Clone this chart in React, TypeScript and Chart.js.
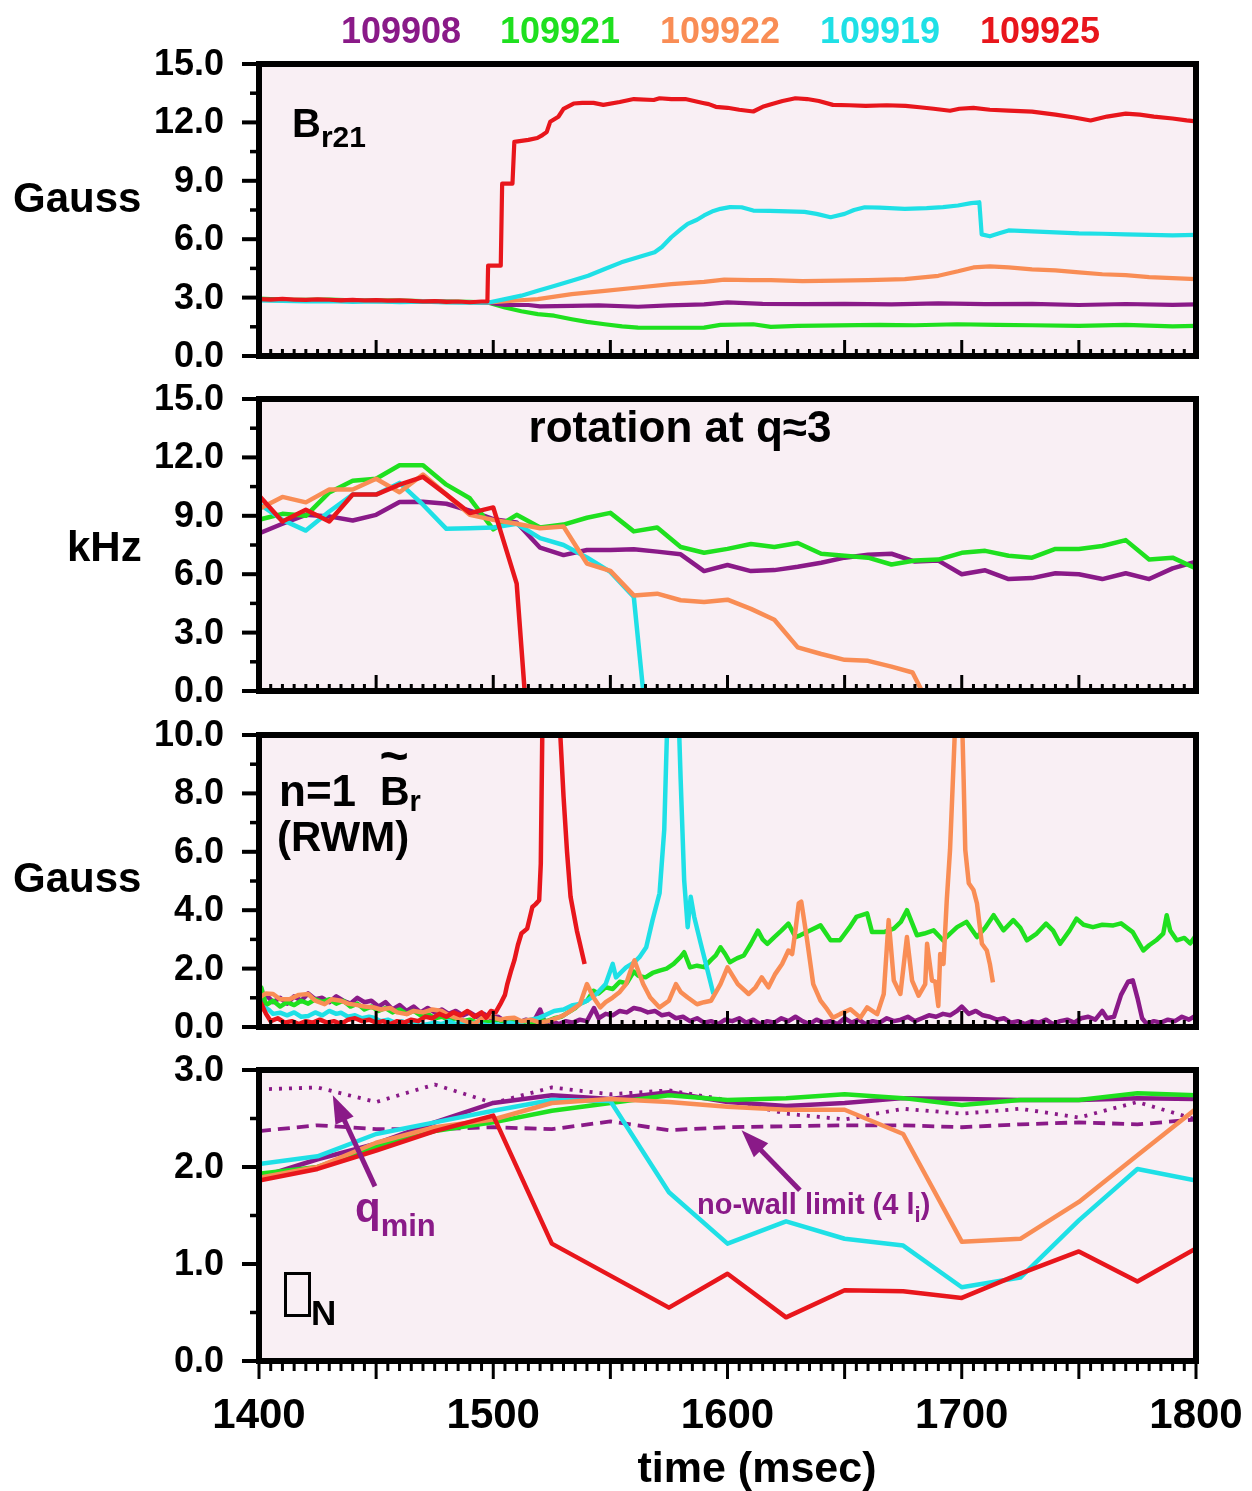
import React, { useEffect, useRef } from 'react';
import { Chart, registerables } from 'chart.js';
Chart.register(...registerables);

const W = 1252;
const FONT = '"Liberation Sans", Arial, Helvetica, sans-serif';
const PURPLE = '#8a1a88';
const GREEN = '#1fe01f';
const ORANGE = '#f98d55';
const CYAN = '#1fe0e6';
const RED = '#e8161c';
const BG = '#f9eff4';

type P = [number, number];

// ---------- shot labels ----------
const shotNames = ['109908', '109921', '109922', '109919', '109925'];
const shotColors = [PURPLE, GREEN, ORANGE, CYAN, RED];

// ---------- axis ticks ----------
const timeTicks = [1400, 1500, 1600, 1700, 1800];
const br21Ticks = [0, 3, 6, 9, 12, 15];
const rotTicks = [0, 3, 6, 9, 12, 15];
const rwmTicks = [0, 2, 4, 6, 8, 10];
const betaTicks = [0, 1, 2, 3];

// ---------- panel 1: B_r21 (Gauss) ----------
const br21Red: P[] = [[1400,2.92],[1405,2.9],[1410,2.93],[1415,2.9],[1420,2.88],[1425,2.91],[1430,2.89],[1435,2.86],[1440,2.88],[1445,2.85],[1450,2.87],[1455,2.84],[1460,2.86],[1465,2.83],[1470,2.8],[1475,2.82],[1480,2.78],[1485,2.8],[1490,2.76],[1495,2.8],[1497.5,2.8],[1497.8,4.64],[1503.2,4.64],[1503.8,8.85],[1508.2,8.85],[1509,11.0],[1512,11.05],[1515,11.1],[1518.8,11.2],[1521,11.35],[1522.8,11.5],[1524.3,12.03],[1527.8,12.29],[1530,12.7],[1534.3,12.97],[1538,13.0],[1542.8,13.0],[1547,12.9],[1554,13.05],[1560,13.2],[1568.5,13.15],[1571,13.24],[1576,13.2],[1582,13.2],[1589.5,13.0],[1592,12.94],[1595,12.8],[1600,12.75],[1605,12.65],[1611,12.56],[1615,12.8],[1619,12.95],[1623.5,13.1],[1629,13.24],[1634,13.2],[1639,13.1],[1645,12.9],[1652,12.88],[1659,12.85],[1668,12.88],[1676,12.85],[1682,12.78],[1688,12.7],[1695,12.6],[1699,12.7],[1705,12.75],[1712,12.65],[1720,12.6],[1730,12.55],[1740,12.4],[1748,12.25],[1755,12.1],[1762,12.3],[1770,12.45],[1776,12.4],[1782,12.3],[1790,12.2],[1796,12.1],[1800,12.05]];
const br21Cyan: P[] = [[1400,2.85],[1410,2.83],[1420,2.8],[1430,2.82],[1440,2.78],[1450,2.8],[1460,2.77],[1470,2.79],[1480,2.75],[1490,2.74],[1498,2.75],[1505,2.92],[1512,3.1],[1519,3.35],[1526,3.6],[1533.5,3.87],[1540.5,4.12],[1547.6,4.47],[1554.7,4.81],[1561.8,5.07],[1568.9,5.33],[1572,5.6],[1576,6.1],[1580,6.5],[1583,6.79],[1587,7.0],[1590,7.22],[1594,7.45],[1597,7.56],[1601,7.65],[1606,7.64],[1611,7.47],[1618,7.45],[1625.8,7.43],[1632.9,7.4],[1638,7.3],[1644,7.13],[1650,7.3],[1654,7.5],[1658.6,7.64],[1665,7.62],[1675.7,7.56],[1685,7.6],[1692,7.65],[1698.4,7.73],[1704,7.85],[1707.5,7.9],[1708.5,6.25],[1712,6.15],[1716,6.3],[1720,6.45],[1730,6.4],[1740,6.35],[1750,6.3],[1760,6.28],[1770,6.25],[1780,6.22],[1790,6.2],[1800,6.22]];
const br21Orange: P[] = [[1400,2.88],[1410,2.86],[1420,2.87],[1430,2.84],[1440,2.85],[1450,2.82],[1460,2.8],[1470,2.81],[1480,2.77],[1490,2.76],[1498,2.75],[1510,2.85],[1519,2.92],[1533.5,3.18],[1547.6,3.35],[1561.8,3.52],[1576,3.69],[1590,3.81],[1598.6,3.92],[1610,3.9],[1618.5,3.9],[1632,3.85],[1647,3.87],[1660,3.9],[1675.7,3.95],[1690,4.12],[1698.4,4.35],[1705,4.55],[1712,4.6],[1720,4.55],[1730,4.45],[1740,4.4],[1750,4.3],[1760,4.2],[1770,4.15],[1780,4.05],[1790,4.0],[1800,3.95]];
const br21Purple: P[] = [[1400,2.9],[1410,2.88],[1420,2.86],[1430,2.87],[1440,2.84],[1450,2.83],[1460,2.8],[1470,2.81],[1480,2.78],[1490,2.76],[1498,2.74],[1505,2.63],[1515,2.62],[1520,2.55],[1533.5,2.58],[1545,2.6],[1561.8,2.53],[1575,2.6],[1590,2.65],[1600,2.75],[1615,2.68],[1633,2.66],[1650,2.68],[1670,2.65],[1690,2.7],[1710,2.66],[1730,2.68],[1750,2.62],[1770,2.67],[1790,2.63],[1800,2.65]];
const br21Green: P[] = [[1400,2.95],[1410,2.9],[1420,2.88],[1430,2.9],[1440,2.86],[1450,2.84],[1460,2.85],[1470,2.82],[1480,2.8],[1490,2.78],[1498,2.74],[1505,2.49],[1512,2.3],[1519,2.15],[1526,2.07],[1533.5,1.89],[1540,1.75],[1547.6,1.63],[1555,1.52],[1561.8,1.46],[1575,1.45],[1590,1.46],[1597,1.6],[1611,1.63],[1618.5,1.5],[1630,1.55],[1647,1.57],[1665,1.6],[1680,1.58],[1698,1.63],[1715,1.6],[1730,1.58],[1750,1.55],[1770,1.6],[1790,1.52],[1800,1.55]];

// ---------- panel 2: rotation at q~3 (kHz) ----------
const rotRed: P[] = [[1400,10.04],[1410,8.71],[1420,9.31],[1430,8.71],[1440,10.09],[1450,10.09],[1460,10.6],[1470,11.0],[1480,10.09],[1490,9.14],[1500,9.43],[1510,5.52],[1513.4,0]];
const rotOrange: P[] = [[1400,9.35],[1410,9.97],[1420,9.69],[1430,10.35],[1440,10.35],[1450,10.9],[1460,10.21],[1470,11.12],[1480,10.09],[1490,9.05],[1500,8.79],[1510,8.59],[1520,8.36],[1530,8.45],[1540,6.55],[1550,6.17],[1560,4.91],[1570,5.0],[1580,4.66],[1590,4.57],[1600,4.69],[1610,4.22],[1620,3.66],[1630,2.24],[1640,1.9],[1650,1.6],[1660,1.55],[1670,1.25],[1679,0.95],[1683,0]];
const rotCyan: P[] = [[1400,9.62],[1410,8.79],[1420,8.24],[1430,9.22],[1440,10.09],[1450,10.09],[1460,10.69],[1470,9.57],[1480,8.33],[1490,8.36],[1500,8.4],[1510,8.59],[1520,7.85],[1530,7.5],[1540,6.86],[1550,6.12],[1560,4.83],[1564,0]];
const rotGreen: P[] = [[1400,8.8],[1410,9.1],[1420,9.0],[1430,10.2],[1440,10.8],[1450,10.9],[1460,11.6],[1470,11.6],[1480,10.6],[1490,9.9],[1500,8.3],[1510,9.05],[1520,8.4],[1530,8.55],[1540,8.9],[1550,9.15],[1560,8.2],[1570,8.4],[1580,7.4],[1590,7.1],[1600,7.3],[1610,7.55],[1620,7.4],[1630,7.6],[1640,7.05],[1650,6.95],[1660,6.85],[1670,6.5],[1680,6.7],[1690,6.75],[1700,7.1],[1710,7.2],[1720,6.95],[1730,6.85],[1740,7.3],[1750,7.3],[1760,7.45],[1770,7.75],[1780,6.75],[1790,6.85],[1800,6.3]];
const rotPurple: P[] = [[1400,8.1],[1410,8.59],[1420,9.05],[1430,8.97],[1440,8.76],[1450,9.05],[1460,9.71],[1470,9.72],[1480,9.62],[1490,9.26],[1500,8.83],[1510,8.66],[1520,7.36],[1530,6.98],[1540,7.24],[1550,7.24],[1560,7.28],[1570,7.16],[1580,7.02],[1590,6.16],[1600,6.47],[1610,6.16],[1620,6.21],[1630,6.38],[1640,6.59],[1650,6.85],[1660,7.0],[1670,7.05],[1680,6.65],[1690,6.7],[1700,6.0],[1710,6.2],[1720,5.75],[1730,5.8],[1740,6.05],[1750,6.0],[1760,5.75],[1770,6.05],[1780,5.75],[1790,6.3],[1800,6.65]];

// ---------- panel 3: n=1 RWM (Gauss) ----------
const rwmRed: P[] = [[1400,0.35],[1401,0.8],[1403,0.45],[1405,0.2],[1408,0.3],[1411,0.15],[1414,0.2],[1417,0.1],[1420,0.2],[1423,0.15],[1426,0.25],[1429,0.15],[1432,0.2],[1435,0.1],[1438,0.25],[1441,0.3],[1444,0.2],[1447,0.25],[1450,0.15],[1453,0.2],[1456,0.1],[1459,0.2],[1462,0.15],[1465,0.25],[1468,0.2],[1471,0.35],[1474,0.3],[1477,0.45],[1480,0.35],[1483,0.5],[1486,0.4],[1489,0.55],[1492,0.35],[1495,0.5],[1497,0.32],[1499,0.55],[1501,0.5],[1503,0.78],[1505,1.1],[1506,1.47],[1507.5,1.9],[1509,2.28],[1510.5,2.8],[1512,3.2],[1514.5,3.37],[1516.7,4.11],[1518,4.2],[1519.6,4.34],[1520.3,5.6],[1521,10.5],[1521.5,16],[1527.5,16],[1528.5,10.2],[1530,7.9],[1531.5,6.0],[1533,4.46],[1535.7,3.3],[1537,2.85],[1539,2.16]];
const rwmOrange: P[] = [[1400,1.0],[1403,1.15],[1406,1.13],[1409,0.95],[1413,0.95],[1417,1.1],[1421,1.13],[1424,0.9],[1428,0.78],[1431,0.95],[1435,0.9],[1438,0.8],[1442,0.75],[1445,0.7],[1449,0.67],[1452,0.6],[1456,0.65],[1459,0.5],[1463,0.44],[1466,0.55],[1470,0.5],[1474,0.6],[1478,0.55],[1481,0.4],[1485,0.3],[1488,0.2],[1492,0.1],[1495,0.3],[1499,0.35],[1503,0.25],[1506,0.3],[1509,0.32],[1512,0.2],[1516,0.25],[1520,0.15],[1523,0.2],[1527,0.3],[1530,0.4],[1533,0.55],[1537,0.78],[1540,1.47],[1542.8,1.01],[1545.7,0.67],[1548,0.85],[1551,1.01],[1554,1.2],[1556.7,1.47],[1558.5,1.9],[1560.3,2.28],[1562,1.9],[1564,1.47],[1567,1.01],[1571,0.67],[1575,0.9],[1578,1.47],[1580,1.2],[1583,1.01],[1587,0.78],[1590,0.85],[1593,0.9],[1597,1.47],[1600,2.04],[1604.4,1.47],[1609,1.13],[1612,1.36],[1614.6,1.7],[1617.5,1.36],[1620.4,1.82],[1623.3,2.16],[1626,2.62],[1627.6,2.5],[1629,3.3],[1630.4,4.23],[1631.5,4.29],[1633.8,3.08],[1636.6,1.47],[1639.7,0.9],[1642.5,0.61],[1645,0.32],[1648,0.44],[1652.5,0.61],[1656.7,0.32],[1659.6,0.67],[1663.9,0.44],[1666.7,1.13],[1668.8,3.66],[1671,1.59],[1673.8,1.13],[1676.6,3.08],[1678.8,1.59],[1681.6,1.07],[1684.4,1.47],[1685.2,2.85],[1687.3,1.59],[1688.7,1.55],[1690,0.72],[1690.8,2.5],[1692.2,2.16],[1693.6,4.34],[1695,6.07],[1696.5,9.0],[1697.5,11.0],[1700,11.0],[1700.8,8.5],[1701.5,6.07],[1703,4.92],[1705,4.69],[1706.5,4.23],[1708.6,2.85],[1710.7,2.62],[1712,2.16],[1713.3,1.53]];
const rwmCyan: P[] = [[1400,0.5],[1401,0.72],[1404,0.6],[1406,0.45],[1409,0.49],[1412,0.4],[1415,0.5],[1418,0.35],[1421,0.38],[1424,0.5],[1427,0.4],[1430,0.55],[1433,0.45],[1435,0.49],[1438,0.35],[1441,0.4],[1444,0.3],[1447,0.35],[1449,0.32],[1452,0.2],[1455,0.25],[1458,0.15],[1461,0.2],[1463,0.1],[1466,0.15],[1469,0.05],[1472,0.1],[1475,0.15],[1478,0.1],[1481,0.2],[1484,0.1],[1487,0.15],[1490,0.05],[1492,0.15],[1495,0.1],[1498,0.05],[1501,0.1],[1504,0.05],[1507,0.15],[1510,0.1],[1513,0.2],[1516,0.25],[1519,0.3],[1522,0.4],[1526,0.55],[1530,0.6],[1534,0.75],[1537,0.79],[1540,0.9],[1544,1.13],[1548,1.47],[1551,2.16],[1552.4,1.7],[1556.7,2.04],[1560,2.2],[1562.4,2.39],[1565.3,2.73],[1568,3.66],[1571,4.58],[1573,6.76],[1573.8,9.06],[1574.5,11],[1579,11],[1580,8.48],[1581.5,5.03],[1583,3.42],[1584.3,4.46],[1585.8,3.77],[1588.6,2.85],[1591.5,1.93],[1594,1.13]];
const rwmGreen: P[] = [[1400,0.8],[1401,1.35],[1403,0.75],[1406,0.9],[1409,0.7],[1412,0.85],[1415,0.75],[1418,0.9],[1421,0.8],[1424,0.95],[1427,0.85],[1430,0.95],[1433,0.8],[1436,0.9],[1439,0.7],[1442,0.8],[1445,0.6],[1448,0.7],[1451,0.55],[1454,0.65],[1457,0.5],[1460,0.6],[1463,0.45],[1466,0.55],[1469,0.4],[1472,0.45],[1475,0.3],[1478,0.35],[1481,0.25],[1484,0.3],[1487,0.2],[1490,0.25],[1493,0.15],[1496,0.2],[1499,0.15],[1502,0.25],[1505,0.15],[1508,0.2],[1511,0.1],[1514,0.2],[1517,0.15],[1520,0.25],[1523,0.2],[1526,0.3],[1529,0.35],[1532,0.5],[1535,0.65],[1537,0.8],[1540,0.9],[1542.8,1.24],[1545,1.15],[1548,1.36],[1551,1.3],[1554,1.55],[1557,1.5],[1560,1.9],[1562,1.75],[1565,1.7],[1568,1.85],[1571,1.93],[1574,2.0],[1577,2.16],[1580,2.4],[1581.5,2.56],[1584,2.04],[1587,2.1],[1590,2.05],[1593,2.3],[1595,2.45],[1597,2.73],[1599,2.5],[1601,2.22],[1604,2.35],[1607,2.45],[1610,2.85],[1613,3.3],[1615,3.0],[1617,2.85],[1620,3.08],[1623,3.3],[1626,3.54],[1629,3.08],[1631,3.14],[1635,3.3],[1639.7,3.48],[1644,2.97],[1648,2.97],[1652,3.4],[1655,3.77],[1659.6,3.89],[1661.7,3.25],[1666.7,3.25],[1671,3.37],[1674,3.6],[1676.6,4.0],[1680.9,3.14],[1684,3.2],[1688,3.31],[1692,2.97],[1695,3.2],[1698,3.42],[1702,3.6],[1706.5,3.08],[1710,3.4],[1713.6,3.83],[1717.8,3.31],[1722,3.66],[1725,3.4],[1727.8,2.97],[1732,3.2],[1736,3.54],[1739,3.3],[1742,2.85],[1746,3.3],[1749,3.71],[1752,3.5],[1756,3.42],[1760,3.5],[1764.7,3.48],[1768,3.55],[1773,3.25],[1777.5,2.62],[1780,2.8],[1783,2.97],[1786,3.2],[1787.5,3.83],[1789,3.3],[1791.8,2.97],[1795,3.05],[1797.5,2.86],[1800,3.14]];
const rwmPurple: P[] = [[1400,0.75],[1403,1.1],[1406,0.85],[1409,1.0],[1412,0.8],[1415,1.05],[1418,0.9],[1421,1.15],[1424,0.95],[1427,1.0],[1430,0.85],[1433,1.05],[1436,0.9],[1439,0.8],[1442,1.0],[1445,0.85],[1448,0.9],[1451,0.7],[1454,0.85],[1457,0.6],[1460,0.75],[1463,0.55],[1466,0.7],[1469,0.5],[1472,0.65],[1475,0.5],[1478,0.6],[1481,0.45],[1484,0.55],[1487,0.4],[1490,0.5],[1493,0.35],[1496,0.45],[1499,0.3],[1502,0.35],[1505,0.2],[1508,0.3],[1511,0.15],[1514,0.25],[1517,0.15],[1520,0.6],[1522,0.15],[1525,0.2],[1528,0.1],[1531,0.2],[1534,0.15],[1537,0.25],[1540,0.2],[1543,0.65],[1545,0.3],[1548,0.45],[1551,0.4],[1554,0.55],[1557,0.5],[1560,0.65],[1563,0.6],[1566,0.5],[1569,0.55],[1572,0.4],[1575,0.45],[1578,0.3],[1581,0.35],[1584,0.2],[1587,0.3],[1590,0.15],[1593,0.2],[1596,0.1],[1599,0.25],[1602,0.2],[1605,0.3],[1608,0.15],[1611,0.25],[1614,0.1],[1617,0.2],[1620,0.15],[1623,0.3],[1626,0.2],[1629,0.35],[1632,0.2],[1635,0.1],[1638,0.25],[1641,0.15],[1644,0.2],[1647,0.1],[1650,0.3],[1653,0.15],[1656,0.25],[1659,0.1],[1662,0.2],[1665,0.15],[1668,0.3],[1671,0.2],[1674,0.25],[1677,0.35],[1680,0.2],[1683,0.3],[1686,0.4],[1689,0.35],[1692,0.45],[1695,0.4],[1698,0.55],[1700,0.7],[1703,0.45],[1706,0.55],[1709,0.4],[1712,0.35],[1715,0.25],[1718,0.3],[1721,0.15],[1724,0.2],[1727,0.1],[1730,0.2],[1733,0.15],[1736,0.25],[1739,0.1],[1742,0.2],[1745,0.25],[1748,0.15],[1751,0.3],[1754,0.35],[1757,0.25],[1760,0.55],[1762,0.3],[1765,0.35],[1768,1.1],[1771,1.55],[1773,1.6],[1775,1.0],[1777,0.3],[1779,0.1],[1782,0.2],[1785,0.15],[1788,0.25],[1791,0.2],[1794,0.35],[1797,0.25],[1800,0.4]];

// ---------- panel 4: beta_N, q_min, no-wall limit ----------
const betaTimes = [1400, 1425, 1450, 1475, 1500, 1525, 1550, 1575, 1600, 1625, 1650, 1675, 1700, 1725, 1750, 1775, 1800];
const betaRed = [1.86, 1.98, 2.17, 2.37, 2.53, 1.21, 0.88, 0.55, 0.9, 0.45, 0.73, 0.72, 0.65, 0.9, 1.13, 0.82, 1.16];
const betaCyan = [2.03, 2.11, 2.34, 2.46, 2.58, 2.69, 2.68, 1.74, 1.21, 1.44, 1.26, 1.19, 0.76, 0.86, 1.45, 1.98, 1.86];
const betaOrange = [1.89, 2.0, 2.25, 2.41, 2.49, 2.66, 2.7, 2.67, 2.62, 2.59, 2.59, 2.34, 1.23, 1.26, 1.64, 2.12, 2.6];
const betaGreen = [1.93, 2.0, 2.21, 2.37, 2.46, 2.58, 2.66, 2.74, 2.69, 2.71, 2.75, 2.71, 2.64, 2.69, 2.69, 2.76, 2.74];
const betaPurple = [1.89, 2.08, 2.24, 2.46, 2.66, 2.74, 2.7, 2.77, 2.67, 2.63, 2.66, 2.71, 2.7, 2.69, 2.69, 2.71, 2.7];
const noWallLimit = [2.37, 2.43, 2.39, 2.39, 2.41, 2.39, 2.47, 2.38, 2.41, 2.42, 2.43, 2.43, 2.41, 2.44, 2.46, 2.44, 2.49];
const qminPurple = [2.8, 2.82, 2.67, 2.85, 2.66, 2.82, 2.75, 2.79, 2.69, 2.55, 2.49, 2.6, 2.55, 2.6, 2.51, 2.67, 2.49];

// annotation arrows (data coords: [time, value])
const qminArrow: P[] = [[1449.5, 1.8], [1431.5, 2.74]];
const noWallArrow: P[] = [[1630.9, 1.76], [1606.0, 2.38]];

const zipT = (vals: number[]): P[] => vals.map((v, i) => [betaTimes[i], v]);

interface Series { name: string; data: P[]; color: string; dash?: number[] }
interface PanelSpec {
  top: number;
  height: number;
  yTicks: number[];
  yMinor: number;
  lineWidth: number;
  series: Series[];
  bottom?: boolean;
  arrows?: P[][];
}

const PAD_T = 40;
const PAD_B = 40;
const PAD_B_LAST = 140;
const LEFT = 259;
const RIGHT = 1196;

const panels: PanelSpec[] = [
  {
    top: 64, height: 292, yTicks: br21Ticks, yMinor: 1.5, lineWidth: 4.2,
    series: [
      { name: '109925', data: br21Red, color: RED },
      { name: '109919', data: br21Cyan, color: CYAN },
      { name: '109922', data: br21Orange, color: ORANGE },
      { name: '109908', data: br21Purple, color: PURPLE },
      { name: '109921', data: br21Green, color: GREEN },
    ],
  },
  {
    top: 399, height: 292, yTicks: rotTicks, yMinor: 1.5, lineWidth: 4.5,
    series: [
      { name: '109925', data: rotRed, color: RED },
      { name: '109922', data: rotOrange, color: ORANGE },
      { name: '109919', data: rotCyan, color: CYAN },
      { name: '109921', data: rotGreen, color: GREEN },
      { name: '109908', data: rotPurple, color: PURPLE },
    ],
  },
  {
    top: 735, height: 292, yTicks: rwmTicks, yMinor: 1, lineWidth: 4.5,
    series: [
      { name: '109925', data: rwmRed, color: RED },
      { name: '109922', data: rwmOrange, color: ORANGE },
      { name: '109919', data: rwmCyan, color: CYAN },
      { name: '109921', data: rwmGreen, color: GREEN },
      { name: '109908', data: rwmPurple, color: PURPLE },
    ],
  },
  {
    top: 1070, height: 291, yTicks: betaTicks, yMinor: 0.5, lineWidth: 4.5, bottom: true,
    arrows: [qminArrow, noWallArrow],
    series: [
      { name: '109925', data: zipT(betaRed), color: RED },
      { name: '109922', data: zipT(betaOrange), color: ORANGE },
      { name: '109919', data: zipT(betaCyan), color: CYAN },
      { name: '109921', data: zipT(betaGreen), color: GREEN },
      { name: '109908', data: zipT(betaPurple), color: PURPLE },
      { name: 'no-wall limit', data: zipT(noWallLimit), color: PURPLE, dash: [12, 7] },
      { name: 'qmin', data: zipT(qminPurple), color: PURPLE, dash: [3, 7] },
    ],
  },
];

function makeFramePlugin(spec: PanelSpec) {
  return {
    id: 'frame',
    beforeDatasetsDraw(chart: any) {
      const { ctx, chartArea: a } = chart;
      ctx.save();
      ctx.fillStyle = BG;
      ctx.fillRect(a.left, a.top, a.right - a.left, a.bottom - a.top);
      ctx.restore();
    },
    afterDatasetsDraw(chart: any) {
      const { ctx, chartArea: a, scales } = chart;
      const xs = scales.x;
      const ys = scales.y;
      ctx.save();
      // arrows
      (spec.arrows || []).forEach((arr) => {
        const x0 = xs.getPixelForValue(arr[0][0]);
        const y0 = ys.getPixelForValue(arr[0][1]);
        const x1 = xs.getPixelForValue(arr[1][0]);
        const y1 = ys.getPixelForValue(arr[1][1]);
        const dx = x1 - x0, dy = y1 - y0;
        const len = Math.hypot(dx, dy);
        const ux = dx / len, uy = dy / len;
        const headL = 28, headW = 10;
        const bx = x1 - ux * headL, by = y1 - uy * headL;
        ctx.strokeStyle = PURPLE;
        ctx.fillStyle = PURPLE;
        ctx.lineWidth = 5;
        ctx.beginPath();
        ctx.moveTo(x0, y0);
        ctx.lineTo(bx + ux * 4, by + uy * 4);
        ctx.stroke();
        ctx.beginPath();
        ctx.moveTo(x1, y1);
        ctx.lineTo(bx - uy * headW, by + ux * headW);
        ctx.lineTo(bx + uy * headW, by - ux * headW);
        ctx.closePath();
        ctx.fill();
      });
      ctx.strokeStyle = '#000';
      ctx.fillStyle = '#000';
      // y ticks (outward, left)
      const yMax = spec.yTicks[spec.yTicks.length - 1];
      const nMinor = Math.round(yMax / spec.yMinor);
      for (let i = 0; i <= nMinor; i++) {
        const v = i * spec.yMinor;
        const py = ys.getPixelForValue(v);
        const major = spec.yTicks.some((t) => Math.abs(t - v) < 1e-6);
        ctx.lineWidth = major ? 4 : 3.5;
        ctx.beginPath();
        ctx.moveTo(a.left - (major ? 17 : 9), py);
        ctx.lineTo(a.left, py);
        ctx.stroke();
      }
      // x ticks
      for (let t = 1400; t <= 1800; t += 5) {
        const px = xs.getPixelForValue(t);
        const major = t % 50 === 0;
        ctx.lineWidth = 3;
        ctx.beginPath();
        if (spec.bottom) {
          ctx.moveTo(px, a.bottom);
          ctx.lineTo(px, a.bottom + (major ? 18 : 10));
        } else {
          ctx.moveTo(px, a.bottom);
          ctx.lineTo(px, a.bottom - (major ? 16 : 7));
        }
        ctx.stroke();
      }
      // frame
      ctx.lineWidth = 6;
      ctx.strokeRect(a.left, a.top, a.right - a.left, a.bottom - a.top);
      // y tick labels
      ctx.font = `bold 36px ${FONT}`;
      ctx.textAlign = 'right';
      ctx.textBaseline = 'middle';
      spec.yTicks.forEach((v) => {
        ctx.fillText(v.toFixed(1), 224, ys.getPixelForValue(v) + 1);
      });
      // x tick labels
      if (spec.bottom) {
        ctx.font = `bold 42px ${FONT}`;
        ctx.textAlign = 'center';
        ctx.textBaseline = 'alphabetic';
        timeTicks.forEach((t) => {
          ctx.fillText(String(t), xs.getPixelForValue(t), a.bottom + 67);
        });
      }
      ctx.restore();
    },
  };
}

function Panel({ spec }: { spec: PanelSpec }) {
  const ref = useRef<HTMLCanvasElement>(null);
  const padB = spec.bottom ? PAD_B_LAST : PAD_B;
  const h = spec.height + PAD_T + padB;
  useEffect(() => {
    const yMax = spec.yTicks[spec.yTicks.length - 1];
    const chart = new Chart(ref.current as HTMLCanvasElement, {
      type: 'line',
      data: {
        datasets: spec.series.map((s) => ({
          label: s.name,
          data: s.data.map(([x, y]) => ({ x, y })),
          borderColor: s.color,
          backgroundColor: s.color,
          borderWidth: s.dash ? 3.8 : spec.lineWidth,
          borderDash: s.dash || [],
          borderJoinStyle: 'round' as const,
          pointRadius: 0,
          tension: 0,
          fill: false,
        })),
      },
      options: {
        animation: false,
        responsive: false,
        maintainAspectRatio: false,
        events: [],
        layout: { padding: { left: LEFT, right: W - RIGHT, top: PAD_T, bottom: padB } },
        scales: {
          x: { type: 'linear', min: 1400, max: 1800, display: false },
          y: { type: 'linear', min: 0, max: yMax, display: false },
        },
        plugins: { legend: { display: false }, tooltip: { enabled: false } },
      },
      plugins: [makeFramePlugin(spec)],
    } as any);
    return () => chart.destroy();
  }, []);
  return (
    <canvas
      ref={ref}
      width={W}
      height={h}
      style={{ position: 'absolute', left: 0, top: spec.top - PAD_T, width: W, height: h }}
    />
  );
}

function Txt({ x, y, size, color = '#000', align = 'left', children }: any) {
  const style: React.CSSProperties = {
    position: 'absolute',
    top: y - 0.8465 * size,
    fontFamily: FONT,
    fontWeight: 'bold',
    fontSize: size,
    lineHeight: `${size}px`,
    color,
    whiteSpace: 'nowrap',
  };
  if (align === 'left') style.left = x;
  else if (align === 'center') { style.left = x; style.transform = 'translateX(-50%)'; }
  else style.right = W - x;
  return <div style={style}>{children}</div>;
}

const sub = (size: number, top: number): React.CSSProperties => ({ fontSize: size, position: 'relative', top, lineHeight: '1' });

export default function App() {
  const legendX = [401, 560, 720, 880, 1040];
  return (
    <div style={{ position: 'absolute', left: 0, top: 0, width: W, height: 1491, background: '#fff', overflow: 'hidden' }}>
      {panels.map((p, i) => <Panel key={i} spec={p} />)}
      {shotNames.map((n, i) => (
        <Txt key={n} x={legendX[i]} y={43} size={36} color={shotColors[i]} align="center">{n}</Txt>
      ))}
      <Txt x={13} y={213} size={42}>Gauss</Txt>
      <Txt x={67} y={562} size={42}>kHz</Txt>
      <Txt x={13} y={893} size={42}>Gauss</Txt>
      <Txt x={292} y={137} size={40}>B<span style={sub(30, 10)}>r21</span></Txt>
      <Txt x={680} y={442} size={44} align="center">rotation at q≈3</Txt>
      <Txt x={279} y={806} size={44}>n=1</Txt>
      <Txt x={380} y={806} size={41}>B<span style={sub(29, 6)}>r</span></Txt>
      <Txt x={394} y={773} size={50} align="center">~</Txt>
      <Txt x={277} y={852} size={42}>(RWM)</Txt>
      <Txt x={355} y={1223} size={42} color={PURPLE}>q<span style={sub(31, 14)}>min</span></Txt>
      <Txt x={697} y={1215} size={29} color={PURPLE}>no-wall limit (4 l<span style={sub(22, 8)}>i</span>)</Txt>
      <div style={{ position: 'absolute', left: 284, top: 1272, width: 21, height: 39, border: '3px solid #000' }} />
      <Txt x={311} y={1325} size={35}>N</Txt>
      <Txt x={757} y={1482} size={43} align="center">time (msec)</Txt>
    </div>
  );
}
